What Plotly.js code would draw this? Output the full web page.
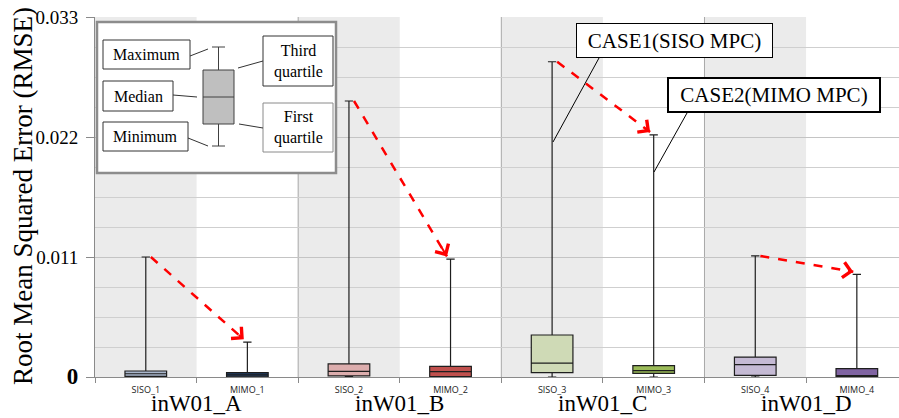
<!DOCTYPE html>
<html>
<head>
<meta charset="utf-8">
<script src="https://cdn.plot.ly/plotly-3.0.1.min.js"></script>
<style>html,body{margin:0;padding:0;background:#fff;}#chart{width:899px;height:418px;}</style>
</head>
<body>
<div id="chart"></div>
<script>
// ---- data ----
const categories = ['SISO_1','MIMO_1','SISO_2','MIMO_2','SISO_3','MIMO_3','SISO_4','MIMO_4'];
const groups = ['inW01_A','inW01_B','inW01_C','inW01_D'];
const maxVals    = [0.0110, 0.0032, 0.0253, 0.0108, 0.0289, 0.0222, 0.0111, 0.0094];
const q3Vals     = [0.00055, 0.0004, 0.0012, 0.00098, 0.00385, 0.00104, 0.00183, 0.00076];
const medianVals = [0.0003, 0.0002, 0.00052, 0.00049, 0.00128, 0.00058, 0.00113, 0.0001];
const q1Vals     = [0.00006, 0.00002, 0.0001, 0.00003, 0.0004, 0.00034, 0.00015, 0.00003];
const minVals    = [0, 0, 0, 0, 0, 0, 0, 0];
const fillColors = ['#aab7cc','#203c64','#dcadad','#c0504d','#cfdab6','#9bbb59','#c5bad4','#8064a2'];
const yTickVals  = [0, 0.011, 0.022, 0.033];
const yTickText  = ['<span style="font-size:23px"><b>0</b></span>','0.011','0.022','0.033'];

// ---- layout helpers (pixel -> paper) ----
const L = 95, R = 899, T = 17, B = 377;
const px = x => (x - L) / (R - L);
const py = y => (B - y) / (B - T);
const serif = 'Liberation Serif, Times New Roman, serif';

const traces = categories.map((c, i) => ({
  type: 'box',
  x: [i],
  q1: [q1Vals[i]], median: [medianVals[i]], q3: [q3Vals[i]],
  lowerfence: [minVals[i]], upperfence: [maxVals[i]],
  width: 0.41, whiskerwidth: 0.2,
  fillcolor: fillColors[i],
  line: {color: '#1e1e1e', width: 1.2},
  boxpoints: false, hoverinfo: 'skip', showlegend: false, name: c
}));

const shapes = [];
const annotations = [];

// gray bands on SISO categories
categories.forEach((c, i) => {
  if (i % 2 === 0) shapes.push({type: 'rect', layer: 'below', xref: 'x', yref: 'paper',
    x0: i - 0.5, x1: i + 0.5, y0: 0, y1: 1, fillcolor: '#ebebeb', line: {width: 0}});
});
// group boundary lines
[1.5, 3.5, 5.5].forEach(v => shapes.push({type: 'line', layer: 'below', xref: 'x', yref: 'paper',
  x0: v, x1: v, y0: 0, y1: 1, line: {color: '#a8a8a8', width: 1}}));

// red dashed arrows SISO max -> MIMO max
for (let k = 0; k < groups.length; k++) {
  const i = 2 * k, j = 2 * k + 1;
  const sx = i + 0.05, sy = maxVals[i];
  const ex = j - 0.035, ey = maxVals[j] + 0.00025;
  shapes.push({type: 'line', xref: 'x', yref: 'y', x0: sx, y0: sy, x1: ex, y1: ey,
    line: {color: '#ff0000', width: 2.5, dash: 'dash'}});
  annotations.push({xref: 'x', yref: 'y', axref: 'x', ayref: 'y', x: ex, y: ey,
    ax: ex - 0.07 * (ex - sx), ay: ey - 0.07 * (ey - sy), text: '', showarrow: true,
    arrowhead: 4, arrowsize: 1.5, arrowwidth: 2, arrowcolor: '#ff0000'});
}

// group labels
groups.forEach((g, k) => annotations.push({xref: 'x', yref: 'paper', x: 2 * k + 0.5, y: py(403),
  text: g, showarrow: false, xanchor: 'center', yanchor: 'middle',
  font: {family: serif, size: 23, color: '#000'}}));

// y-axis title
annotations.push({xref: 'paper', yref: 'paper', x: px(23), y: py(196), text: 'Root Mean Squared Error (RMSE)',
  textangle: -90, showarrow: false, xanchor: 'center', yanchor: 'middle',
  font: {family: serif, size: 27, color: '#000'}});

// ---- inset legend ----
function rectPx(x0, y0, x1, y1, color, width, fill) {
  shapes.push({type: 'rect', xref: 'paper', yref: 'paper', x0: px(x0), x1: px(x1), y0: py(y0), y1: py(y1),
    line: {color: color, width: width}, fillcolor: fill || 'rgba(0,0,0,0)', layer: 'above'});
}
function linePx(x0, y0, x1, y1, color, width) {
  shapes.push({type: 'line', xref: 'paper', yref: 'paper', x0: px(x0), x1: px(x1), y0: py(y0), y1: py(y1),
    line: {color: color, width: width}, layer: 'above'});
}
function textPx(x, y, t, size, extra) {
  annotations.push(Object.assign({xref: 'paper', yref: 'paper', x: px(x), y: py(y), text: t, showarrow: false,
    xanchor: 'center', yanchor: 'middle', font: {family: serif, size: size, color: '#000'}}, extra || {}));
}
rectPx(97, 22, 336, 173, '#8c8c8c', 2.5, '#ffffff');
rectPx(103, 40, 190, 69, '#333', 1, '#fff');
rectPx(103, 81, 173, 111, '#333', 1, '#fff');
rectPx(103, 122, 188, 151, '#333', 1, '#fff');
rectPx(263, 36, 333, 86, '#333', 1, '#fff');
rectPx(263, 103, 333, 152, '#8a8a8a', 1, '#fff');
rectPx(203, 70, 234, 124, '#404040', 1, '#bfbfbf');
linePx(203, 97, 234, 97, '#404040', 1);
linePx(218.5, 47, 218.5, 70, '#404040', 1);
linePx(218.5, 124, 218.5, 146, '#404040', 1);
linePx(212, 47, 225, 47, '#404040', 1);
linePx(212, 146, 225, 146, '#404040', 1);
linePx(190, 56, 208, 49, '#333', 1);
linePx(173, 95, 197, 97, '#333', 1);
linePx(188, 138, 208, 146, '#333', 1);
linePx(238, 68, 263, 61, '#333', 1);
linePx(239, 124, 263, 128, '#333', 1);
textPx(146.5, 54.5, 'Maximum', 16);
textPx(138, 96, 'Median', 16);
textPx(145.5, 136.5, 'Minimum', 16);
textPx(298, 61, 'Third<br>quartile', 16);
textPx(298, 127.5, 'First<br>quartile', 16);

// CASE callouts
linePx(599, 58, 553, 142, '#000', 1);
linePx(687, 113, 654, 172, '#000', 1);
textPx(674.5, 40.5, 'CASE1(SISO MPC)', 21, {bgcolor: '#fff', bordercolor: '#000', borderwidth: 1, borderpad: 0, width: 195, height: 33});
textPx(774, 95, 'CASE2(MIMO MPC)', 21, {bgcolor: '#fff', bordercolor: '#000', borderwidth: 2, borderpad: 0, width: 210, height: 32});

const layout = {
  width: 899, height: 418,
  margin: {l: L, r: 899 - R, t: T, b: 418 - B},
  paper_bgcolor: '#fff', plot_bgcolor: '#fff',
  showlegend: false,
  xaxis: {
    range: [-0.5, 7.415], tickvals: categories.map((c, i) => i), ticktext: categories,
    ticks: '', showgrid: false, zeroline: false, showline: true, linecolor: '#8a8a8a', linewidth: 1,
    tickfont: {family: 'Open Sans, sans-serif', size: 9, color: '#222'}, ticklabelstandoff: 4,
    minor: {tick0: 0.5, dtick: 1, ticks: 'outside', ticklen: 5, tickcolor: '#8a8a8a', showgrid: false}
  },
  yaxis: {
    range: [0, 0.033], tickvals: yTickVals, ticktext: yTickText,
    ticks: 'outside', ticklen: 8, tickcolor: '#8a8a8a', showline: true, linecolor: '#8a8a8a',
    showgrid: true, gridcolor: '#c4c4c4', zeroline: false,
    tickfont: {family: serif, size: 19, color: '#000'}, ticklabelstandoff: 4,
    minor: {tick0: 0, dtick: 0.00275, showgrid: true, gridcolor: '#cfcfcf', ticks: ''}
  },
  shapes: shapes,
  annotations: annotations
};

Plotly.newPlot('chart', traces, layout, {staticPlot: true, displayModeBar: false});
</script>
</body>
</html>
